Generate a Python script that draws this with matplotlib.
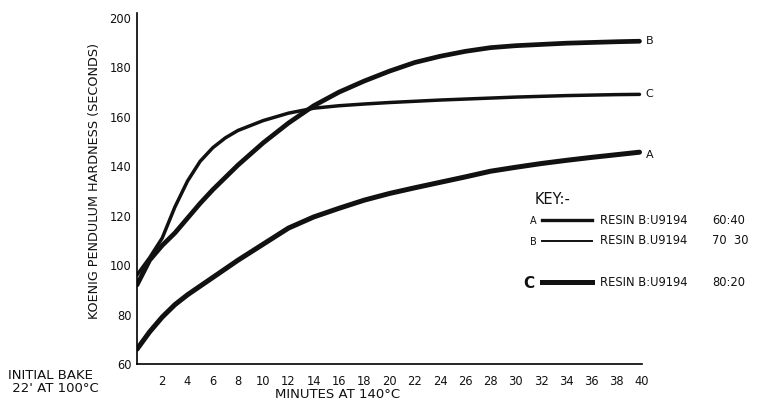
import matplotlib
matplotlib.use("Agg")
import matplotlib.pyplot as plt
from matplotlib.lines import Line2D

# === data ===
minutes = [0, 1, 2, 3, 4, 5, 6, 7, 8, 10, 12, 14, 16, 18, 20, 22, 24, 26, 28, 30, 32, 34, 36, 38, 39.8]

hard_a = [66, 73, 79, 84, 88, 91.5, 95, 98.5, 102, 108.5, 115, 119.5, 123, 126.3, 129, 131.3,
          133.5, 135.7, 138, 139.6, 141.1, 142.4, 143.6, 144.7, 145.7]
hard_b = [92, 102, 108, 113, 119, 125, 130.5, 135.5, 140.5, 149.5, 157.5, 164.5, 170, 174.5,
          178.5, 182, 184.5, 186.5, 188, 188.8, 189.3, 189.8, 190.1, 190.4, 190.6]
hard_c = [96, 103, 111, 123.5, 134, 142, 147.5, 151.5, 154.5, 158.5, 161.5, 163.5, 164.5,
          165.2, 165.8, 166.3, 166.8, 167.2, 167.6, 168, 168.3, 168.6, 168.8, 169, 169.1]

x_ticks = list(range(2, 41, 2))
y_ticks = list(range(60, 201, 20))

key_codes = ["A", "B", "C"]
key_resins = ["RESIN B:U9194", "RESIN B.U9194", "RESIN B:U9194"]
key_ratios = ["60:40", "70  30", "80:20"]

W, H = 766, 403
fig = plt.figure(figsize=(W / 100, H / 100), dpi=100)
fig.patch.set_facecolor("white")


def fx(px):
    return px / W


def fy(py):
    return 1 - py / H


ax = fig.add_axes([fx(137), fy(364), fx(642) - fx(137), fy(18) - fy(364)])
ax.set_xlim(0, 40)
ax.set_ylim(60, 200)
for s in ["top", "right"]:
    ax.spines[s].set_visible(False)
ax.spines["left"].set_bounds(60, 202)
for s in ["left", "bottom"]:
    ax.spines[s].set_linewidth(1.2)

ink = "#111111"
kw = dict(color=ink, solid_capstyle="round", solid_joinstyle="round")
ax.plot(minutes, hard_a, lw=3.6, **kw)
ax.plot(minutes, hard_b, lw=3.4, **kw)
ax.plot(minutes, hard_c, lw=2.5, **kw)

ax.set_xticks(x_ticks)
ax.set_yticks(y_ticks)
ax.tick_params(axis="both", length=0, labelsize=8.3, colors=ink)
ax.tick_params(axis="x", pad=8)
ax.tick_params(axis="y", pad=4)

ax.set_ylabel("KOENIG PENDULUM HARDNESS (SECONDS)", fontsize=9.2, color=ink)
ax.yaxis.set_label_coords(-0.072, 0.53)

# end-of-curve letters
ax.text(40.3, hard_a[-1] - 1, "A", fontsize=8, ha="left", va="center", color=ink)
ax.text(40.3, hard_b[-1], "B", fontsize=8, ha="left", va="center", color=ink)
ax.text(40.3, hard_c[-1], "C", fontsize=8, ha="left", va="center", color=ink)

fig.text(fx(338), fy(395), "MINUTES AT 140°C", fontsize=9.5, ha="center", va="center", color=ink)
fig.text(fx(8), fy(382), "INITIAL BAKE\n 22' AT 100°C", fontsize=9.5, ha="left", va="center",
         color=ink, linespacing=1.0)

# key
fig.text(fx(535), fy(199), "KEY:-", fontsize=10.5, ha="left", va="center", color=ink)
rows_y = [220, 241, 282]
key_lw = [2.4, 1.4, 3.6]
for code, resin, ratio, ry, lw in zip(key_codes, key_resins, key_ratios, rows_y, key_lw):
    size = 11 if code == "C" else 7
    weight = "bold" if code == "C" else "normal"
    fig.text(fx(529 if code == "C" else 533), fy(ry + 1), code, fontsize=size,
             fontweight=weight, ha="center", va="center", color=ink)
    fig.add_artist(Line2D([fx(542), fx(592)], [fy(ry), fy(ry)], lw=lw, color=ink))
    fig.text(fx(600), fy(ry), resin, fontsize=8.3, ha="left", va="center", color=ink)
    fig.text(fx(712), fy(ry), ratio, fontsize=8.3, ha="left", va="center", color=ink)

fig.savefig("out.png", dpi=100)
